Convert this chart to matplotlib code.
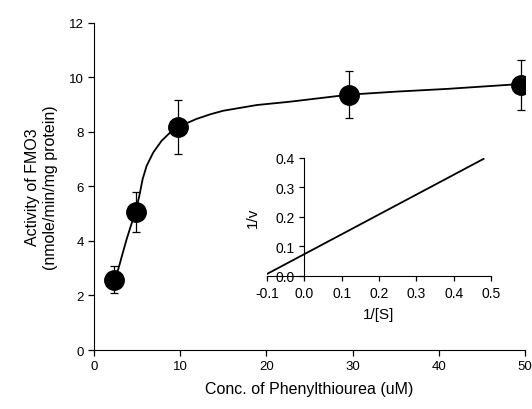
import matplotlib
matplotlib.use("Agg")
from matplotlib import pyplot as plt

plt.rcParams["font.family"] = ["Liberation Sans", "DejaVu Sans"]

# measured points (mean +/- error)
conc = [2.3, 4.9, 9.7, 29.6, 49.5]
activity = [2.58, 5.05, 8.19, 9.37, 9.73]
activity_err = [0.5, 0.73, 1.0, 0.86, 0.92]

# fitted curve
curve_x = [2.3, 2.82, 3.3, 3.79, 4.3, 4.84, 5.26, 5.65, 6.11, 6.88, 7.85,
           8.8, 9.78, 11.9, 13.5, 15.0, 18.9, 22.7, 29.6, 35.0, 40.9, 49.5]
curve_y = [2.58, 2.97, 3.52, 4.07, 4.58, 5.09, 5.66, 6.28, 6.76, 7.25, 7.68,
           7.97, 8.19, 8.48, 8.65, 8.78, 8.99, 9.11, 9.37, 9.48, 9.58, 9.76]

# Lineweaver-Burk inset line
lb_x = [-0.1, 0.48]
lb_y = [0.007, 0.397]

x_ticks = [0, 10, 20, 30, 40, 50]
y_ticks = [0, 2, 4, 6, 8, 10, 12]
inset_x_ticks = [-0.1, 0.0, 0.1, 0.2, 0.3, 0.4, 0.5]
inset_y_ticks = [0.0, 0.1, 0.2, 0.3, 0.4]

if __name__ == "__main__":
    fig = plt.figure(figsize=(5.32, 4.10), dpi=100)
    ax = fig.add_axes([0.1767, 0.1439, 0.810, 0.7976])

    ax.plot(curve_x, curve_y, color="black", lw=1.3, zorder=2)
    ax.errorbar(conc, activity, yerr=activity_err, fmt="o", color="black",
                ms=14, elinewidth=0.9, capsize=3, capthick=0.9, zorder=3)

    ax.set_xlim(0, 50)
    ax.set_ylim(0, 12)
    ax.set_xticks(x_ticks)
    ax.set_yticks(y_ticks)
    ax.spines["top"].set_visible(False)
    ax.spines["right"].set_visible(False)
    ax.tick_params(direction="out", length=4, width=0.9, labelsize=9.5)
    ax.set_xlabel("Conc. of Phenylthiourea (uM)", fontsize=11.5, labelpad=6)
    ax.set_ylabel("Activity of FMO3\n(nmole/min/mg protein)", fontsize=11.5,
                  labelpad=8)

    # inset: double reciprocal plot
    ins = fig.add_axes([0.502, 0.3244, 0.421, 0.2878])
    ins.plot(lb_x, lb_y, color="black", lw=1.3)
    ins.set_xlim(-0.1, 0.5)
    ins.set_ylim(0, 0.4)
    ins.set_xticks(inset_x_ticks)
    ins.set_yticks(inset_y_ticks)
    ins.xaxis.set_major_formatter(matplotlib.ticker.FormatStrFormatter("%.1f"))
    ins.yaxis.set_major_formatter(matplotlib.ticker.FormatStrFormatter("%.1f"))
    ins.spines["top"].set_visible(False)
    ins.spines["right"].set_visible(False)
    ins.spines["left"].set_position(("data", 0))
    ins.patch.set_alpha(0)
    ins.tick_params(direction="out", length=3.5, width=0.9, labelsize=10)
    ins.set_xlabel("1/[S]", fontsize=11, labelpad=5)
    ins.set_ylabel("1/v", fontsize=11)
    ins.yaxis.set_label_coords(-0.03, 0.5)

    fig.savefig("out.png", dpi=100)
